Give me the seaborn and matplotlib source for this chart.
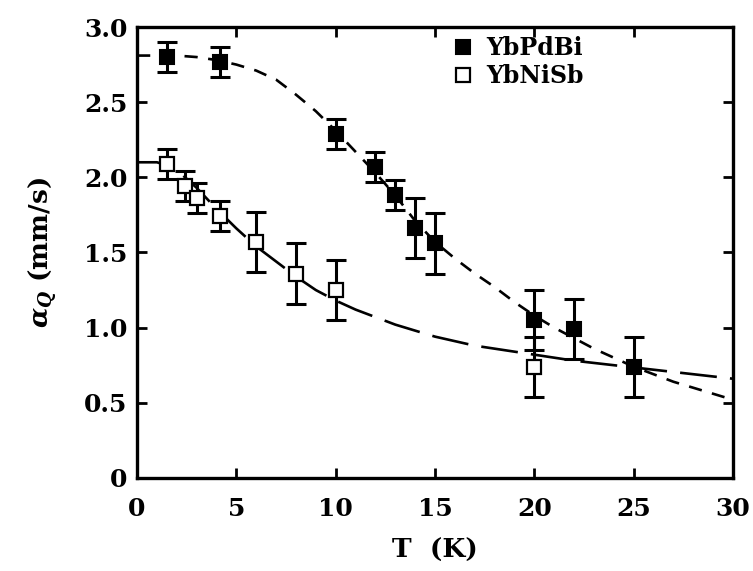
import numpy as np
import pandas as pd
import matplotlib
matplotlib.use("Agg")
import matplotlib.pyplot as plt
import seaborn as sns

# ---- data ----
pd_T = [1.5, 4.2, 10, 12, 13, 14, 15, 20, 22, 25]
pd_val = [2.80, 2.77, 2.29, 2.07, 1.88, 1.66, 1.56, 1.05, 0.99, 0.74]
pd_err = [0.10, 0.10, 0.10, 0.10, 0.10, 0.20, 0.20, 0.20, 0.20, 0.20]

ni_T = [1.5, 2.4, 3.0, 4.2, 6, 8, 10, 20]
ni_val = [2.09, 1.94, 1.86, 1.74, 1.57, 1.36, 1.25, 0.74]
ni_err = [0.10, 0.10, 0.10, 0.10, 0.20, 0.20, 0.20, 0.20]

# fit curves
fit_pd_T = [0, 1, 2, 3, 4, 5, 6, 7, 8, 9, 10, 11, 12, 13, 14, 15, 16, 17, 18,
            19, 20, 21, 22, 23, 24, 25, 26, 27, 28, 29, 30]
fit_pd_val = [2.81, 2.81, 2.81, 2.80, 2.78, 2.75, 2.71, 2.65, 2.55, 2.44, 2.31,
              2.17, 2.03, 1.88, 1.71, 1.57, 1.46, 1.36, 1.27, 1.17, 1.08, 1.00,
              0.93, 0.86, 0.80, 0.74, 0.69, 0.64, 0.60, 0.56, 0.52]

fit_ni_T = [0, 1, 1.5, 2, 3, 4, 5, 6, 7, 8, 9, 10, 11, 12, 13, 14, 15, 16, 17,
            18, 19, 20, 22, 24, 26, 28, 30]
fit_ni_val = [2.10, 2.10, 2.08, 2.05, 1.93, 1.79, 1.66, 1.54, 1.44, 1.34, 1.25,
              1.18, 1.12, 1.07, 1.02, 0.98, 0.94, 0.91, 0.88, 0.86, 0.84, 0.82,
              0.78, 0.75, 0.72, 0.69, 0.66]

x_ticks = [0, 5, 10, 15, 20, 25, 30]
y_ticks = [0, 0.5, 1.0, 1.5, 2.0, 2.5, 3.0]
y_ticklabels = ["0", "0.5", "1.0", "1.5", "2.0", "2.5", "3.0"]

sns.set_style("ticks")
plt.rcParams['font.family'] = ['DejaVu Serif']
plt.rcParams['font.weight'] = 'bold'
plt.rcParams['mathtext.fontset'] = 'dejavuserif'
plt.rcParams['text.color'] = 'black'
plt.rcParams['axes.labelcolor'] = 'black'
plt.rcParams['xtick.color'] = 'black'
plt.rcParams['ytick.color'] = 'black'

fig = plt.figure(figsize=(7.53, 5.71), dpi=100)
ax = fig.add_axes([0.182, 0.163, 0.7914, 0.7897])

df_pd = pd.DataFrame({"T": fit_pd_T, "v": fit_pd_val})
df_ni = pd.DataFrame({"T": fit_ni_T, "v": fit_ni_val})
sns.lineplot(data=df_pd, x="T", y="v", ax=ax, color="black", lw=1.9, zorder=2)
ax.lines[-1].set_dashes([5, 4])
sns.lineplot(data=df_ni, x="T", y="v", ax=ax, color="black", lw=1.9, zorder=2)
ax.lines[-1].set_dashes([14, 5])

ax.errorbar(pd_T, pd_val, yerr=pd_err, fmt="none", ecolor="black",
            elinewidth=2.2, capsize=7, capthick=2.2, zorder=3)
ax.errorbar(ni_T, ni_val, yerr=ni_err, fmt="none", ecolor="black",
            elinewidth=2.2, capsize=7, capthick=2.2, zorder=3)

ax.plot(pd_T, pd_val, ls="none", marker="s", ms=9.5, mfc="black", mec="black",
        mew=1.5, zorder=4, label="YbPdBi")
ax.plot(ni_T, ni_val, ls="none", marker="s", ms=9.5, mfc="white", mec="black",
        mew=1.6, zorder=4, label="YbNiSb")

ax.set_xlim(0, 30)
ax.set_ylim(0, 3.0)
ax.set_xticks(x_ticks)
ax.set_xticklabels([str(t) for t in x_ticks])
ax.set_yticks(y_ticks)
ax.set_yticklabels(y_ticklabels)
ax.tick_params(direction="in", length=7, width=2, top=True, right=True,
               labelsize=18, colors="black")
ax.tick_params(axis="x", pad=14)
ax.tick_params(axis="y", pad=7)
for lab in ax.get_xticklabels() + ax.get_yticklabels():
    lab.set_fontweight("bold")
for s in ax.spines.values():
    s.set_linewidth(2.4)
    s.set_color("black")

ax.set_xlabel("T  (K)", fontsize=19, fontweight="bold", labelpad=12)
ax.set_ylabel(r"$\alpha_Q$ (mm/s)", fontsize=19, fontweight="bold", labelpad=18)

leg = ax.legend(loc="upper left", bbox_to_anchor=(0.515, 1.0), frameon=False,
                fontsize=17, handlelength=0.8, handletextpad=0.6,
                labelspacing=0.15, borderaxespad=0)

fig.savefig("out.png", dpi=100)
